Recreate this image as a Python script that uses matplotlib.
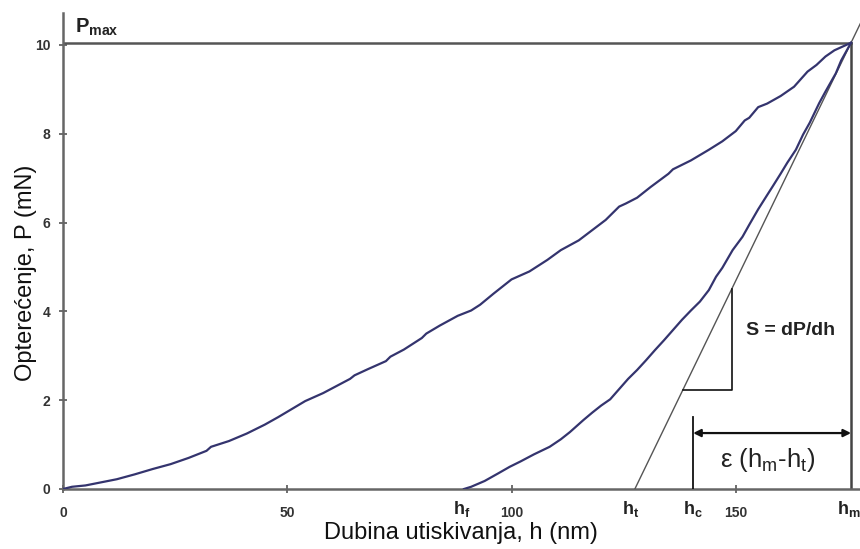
import matplotlib
matplotlib.use("Agg")
import matplotlib.pyplot as plt

plt.rcParams['font.family'] = ['Liberation Sans', 'DejaVu Sans']
plt.rcParams['mathtext.fontset'] = 'custom'
plt.rcParams['mathtext.rm'] = 'Liberation Sans'
plt.rcParams['mathtext.it'] = 'Liberation Sans'
plt.rcParams['mathtext.bf'] = 'Liberation Sans:bold'

# ---- data ----
load_h = [0, 2, 5, 8, 12, 16, 20, 24, 28, 32, 33, 37, 41, 45, 48, 51, 54, 58, 61, 64,
          65, 68, 72, 73, 76, 80, 81, 84, 88, 91, 93, 96, 100, 104, 108, 111, 115, 118,
          121, 124, 125.5, 128, 131, 135, 136, 140, 144, 147, 150, 152, 153, 155, 157,
          160, 163, 166, 168, 170, 172, 175.7]
load_P = [0, 0.05, 0.08, 0.14, 0.22, 0.33, 0.45, 0.56, 0.70, 0.86, 0.95, 1.08, 1.25,
          1.45, 1.62, 1.80, 1.98, 2.16, 2.32, 2.48, 2.56, 2.70, 2.88, 2.98, 3.14, 3.40,
          3.50, 3.68, 3.90, 4.02, 4.15, 4.40, 4.72, 4.90, 5.16, 5.38, 5.60, 5.83, 6.06,
          6.36, 6.43, 6.56, 6.80, 7.10, 7.20, 7.40, 7.64, 7.83, 8.06, 8.30, 8.36, 8.60,
          8.68, 8.85, 9.06, 9.40, 9.55, 9.74, 9.88, 10.05]

unload_h = [89.4, 91, 94, 97, 99.6, 102, 105, 108.5, 111, 113, 116, 118, 120, 122, 124,
            126, 128, 130, 132, 134, 136, 138, 140, 142, 144, 145.6, 147, 149.3, 151.5,
            153, 155, 157, 158.2, 160, 161.5, 163.4, 165, 166.5, 168.6, 170, 172.3,
            173.5, 175.7]
unload_P = [0, 0.05, 0.18, 0.35, 0.50, 0.62, 0.78, 0.95, 1.12, 1.28, 1.55, 1.72, 1.88,
            2.02, 2.25, 2.48, 2.68, 2.90, 3.13, 3.35, 3.58, 3.81, 4.02, 4.22, 4.48, 4.78,
            4.98, 5.38, 5.68, 5.95, 6.30, 6.62, 6.81, 7.10, 7.35, 7.64, 7.98, 8.25, 8.69,
            8.95, 9.36, 9.65, 10.05]

h_f = 89.4
h_t = 127.5
h_c = 140.5
h_m = 175.7
P_max = 10.05

x_ticks = [0, 50, 100, 150]
y_ticks = [0, 2, 4, 6, 8, 10]

tri_x = 149.1      # vertical side of slope triangle
tri_y = 2.23       # horizontal side of slope triangle
arrow_y = 1.26
hc_top = 1.63

# ---- figure ----
fig = plt.figure(figsize=(8.6, 5.49), dpi=100)
ax = fig.add_axes([63 / 860, 60 / 549, 797 / 860, 476 / 549])
ax.set_xlim(0, 177.7)
ax.set_ylim(0, 10.72)

curve_col = '#34346e'
ax.plot(load_h, load_P, color=curve_col, lw=1.6, zorder=4)
ax.plot(unload_h, unload_P, color=curve_col, lw=1.6, zorder=4)

# tangent (stiffness) line through h_t and (h_m, P_max)
slope = P_max / (h_m - h_t)
x_end = 177.7 + 5
ax.plot([h_t, x_end], [0, slope * (x_end - h_t)], color='#555555', lw=1.0, zorder=3)

# Pmax horizontal and h_m vertical
ax.plot([0, h_m], [P_max, P_max], color='#555555', lw=1.8, zorder=2)
ax.plot([h_m, h_m], [0, P_max], color='#444444', lw=1.8, zorder=2)

# slope triangle
tri_x0 = h_t + tri_y / slope
tri_top = slope * (tri_x - h_t)
ax.plot([tri_x0, tri_x, tri_x], [tri_y, tri_y, tri_top], color='#111111', lw=1.2, zorder=3)

# h_c line and arrow
ax.plot([h_c, h_c], [0, hc_top], color='#111111', lw=1.3, zorder=3)
ax.annotate('', xy=(h_m, arrow_y), xytext=(h_c, arrow_y),
            arrowprops=dict(arrowstyle='<|-|>', color='#111111', lw=1.6,
                            mutation_scale=11, shrinkA=0, shrinkB=0))

# texts
ax.text(162.2, 3.56, 'S = dP/dh', fontsize=14, fontweight='bold', color='#222222',
        ha='center', va='center')
ax.text(157.2, 0.66, r'ε (h$_\mathregular{m}$-h$_\mathregular{t}$)', fontsize=18.5,
        color='#222222', ha='center', va='center')
ax.text(2.6, 10.27, r'$\mathbf{P_{max}}$', fontsize=14.5, color='#222222',
        ha='left', va='baseline')

for xv, lab in [(h_f - 0.6, r'$\mathbf{h_f}$'), (h_t - 0.9, r'$\mathbf{h_t}$'),
                (h_c, r'$\mathbf{h_c}$'), (h_m - 0.6, r'$\mathbf{h_m}$')]:
    ax.text(xv, -0.44, lab, fontsize=13, color='#222222', ha='center', va='center',
            clip_on=False)

# axes styling
for s in ['top', 'right']:
    ax.spines[s].set_visible(False)
for s in ['left', 'bottom']:
    ax.spines[s].set_color('#666666')
    ax.spines[s].set_linewidth(1.8)

ax.set_xticks(x_ticks)
ax.set_yticks(y_ticks)
ax.tick_params(axis='both', direction='inout', length=6, width=1.2, color='#555555',
               labelsize=10, labelcolor='#333333')
ax.tick_params(axis='x', pad=9)
ax.tick_params(axis='y', pad=6)
for lab in ax.get_xticklabels() + ax.get_yticklabels():
    lab.set_fontweight('bold')

ax.set_xlabel('Dubina utiskivanja, h (nm)', fontsize=17, color='#111111')
ax.set_ylabel('Opterećenje, P (mN)', fontsize=17, color='#111111')
ax.xaxis.set_label_coords(398 / 797, -33 / 476)
ax.yaxis.set_label_coords(-26 / 797, (489 - 273) / 476)

fig.savefig('out.png', dpi=100)
